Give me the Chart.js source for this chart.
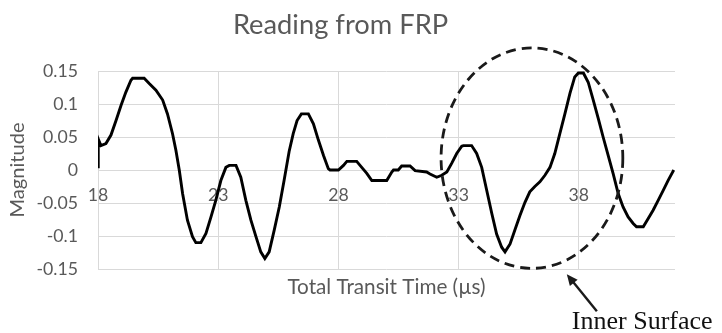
<!DOCTYPE html>
<html>
<head>
<meta charset="utf-8">
<script src="https://cdn.jsdelivr.net/npm/chart.js@4"></script>
<style>
  html, body { margin: 0; padding: 0; background: #fff; }
  #wrap { width: 722px; height: 333px; }
</style>
</head>
<body>
<div id="wrap"><canvas id="c" width="722" height="333"></canvas></div>
<script>
// ---- Data ----
const times = [
  18.00, 18.01, 18.12, 18.33, 18.54, 18.75, 18.96, 19.16, 19.37, 19.44,
  19.92, 20.13, 20.41, 20.69, 20.89, 21.10, 21.24, 21.38, 21.52, 21.72,
  21.93, 22.07, 22.28, 22.49, 22.70, 22.90, 23.11, 23.32, 23.46, 23.74,
  23.94, 24.15, 24.36, 24.57, 24.77, 24.94, 25.12, 25.33, 25.54, 25.74,
  25.95, 26.12, 26.28, 26.46, 26.75, 26.96, 27.17, 27.38, 27.58, 27.65,
  28.00, 28.21, 28.35, 28.76, 28.97, 29.18, 29.39, 30.01, 30.22, 30.29,
  30.49, 30.63, 30.98, 31.19, 31.67, 31.81, 32.09, 32.30, 32.51, 32.71,
  32.92, 33.13, 33.20, 33.54, 33.75, 33.96, 34.17, 34.38, 34.58, 34.79,
  34.93, 35.14, 35.34, 35.55, 35.76, 35.96, 36.17, 36.38, 36.59, 36.80,
  37.00, 37.21, 37.42, 37.63, 37.83, 37.98, 38.19, 38.39, 38.60, 38.81,
  39.01, 39.22, 39.43, 39.64, 39.84, 40.05, 40.26, 40.40, 40.68, 40.88,
  41.09, 41.30, 41.51, 41.71, 41.95
];
const magnitudes = [
  0.005, 0.047, 0.037, 0.040, 0.053, 0.075, 0.098, 0.118, 0.136, 0.139,
  0.139, 0.131, 0.121, 0.106, 0.085, 0.055, 0.030, 0.000, -0.036, -0.076,
  -0.101, -0.110, -0.110, -0.096, -0.071, -0.046, -0.016, 0.004, 0.007, 0.007,
  -0.011, -0.046, -0.076, -0.101, -0.124, -0.134, -0.124, -0.091, -0.056, -0.016,
  0.028, 0.055, 0.075, 0.085, 0.085, 0.070, 0.045, 0.022, 0.002, 0.000,
  0.000, 0.007, 0.013, 0.013, 0.004, -0.005, -0.016, -0.016, -0.003, 0.000,
  0.000, 0.006, 0.006, -0.001, -0.003, -0.006, -0.011, -0.008, -0.003, 0.010,
  0.025, 0.036, 0.037, 0.037, 0.025, 0.004, -0.031, -0.066, -0.097, -0.117,
  -0.124, -0.112, -0.091, -0.069, -0.049, -0.033, -0.025, -0.018, -0.008, 0.004,
  0.025, 0.055, 0.085, 0.116, 0.141, 0.147, 0.147, 0.133, 0.106, 0.078,
  0.050, 0.022, -0.006, -0.036, -0.056, -0.071, -0.081, -0.086, -0.086, -0.074,
  -0.061, -0.046, -0.031, -0.016, 0.000
];
const xTickValues = [18, 23, 28, 33, 38];
const xTickLabels = ['18', '23', '28', '33', '38'];
const yTickValues = [-0.15, -0.1, -0.05, 0, 0.05, 0.1, 0.15];
const yTickLabels = ['-0.15', '-0.1', '-0.05', '0', '0.05', '0.1', '0.15'];
const xRange = [18, 42];
const yRange = [-0.15, 0.15];

const chartTitle = 'Reading from FRP';
const xTitle = 'Total Transit Time (µs)';
const yTitle = 'Magnitude';
const noteText = 'Inner Surface';

// annotation (in data units)
const ellipseCenter = { x: 36.05, y: 0.018 };
const ellipseRadius = { x: 3.78, y: 0.167 };
const arrowTip = { x: 37.5, y: -0.158 };
const arrowTail = { x: 38.75, y: -0.214 };
const noteAnchor = { x: 37.71, y: -0.241 };

// ---- font fitting helper ----
const mctx = document.createElement('canvas').getContext('2d');
function fitSize(text, family, target, weight) {
  mctx.font = (weight || 'normal') + ' 100px ' + family;
  return Math.round(100 * target / mctx.measureText(text).width * 10) / 10;
}
const SANS = 'Lato, "Open Sans", sans-serif';
const SERIF = '"Liberation Serif", "DejaVu Serif", serif';
const fTitle = fitSize(chartTitle, SANS, 215);
const fXTitle = fitSize(xTitle, SANS, 198);
const fYTitle = fitSize(yTitle, SANS, 95);
const fTick = fitSize('0.15', SANS, 35);
const fNote = fitSize(noteText, SERIF, 141);

const grey = '#595959';
const gridColor = '#d9d9d9';

const whiteBg = {
  id: 'whiteBg',
  beforeDraw(chart) {
    const c = chart.ctx;
    c.save(); c.fillStyle = '#fff'; c.fillRect(0, 0, chart.width, chart.height); c.restore();
  }
};

const annot = {
  id: 'annot',
  afterDatasetsDraw(chart) {
    const c = chart.ctx, xs = chart.scales.x, ys = chart.scales.y;
    const cx = xs.getPixelForValue(ellipseCenter.x), cy = ys.getPixelForValue(ellipseCenter.y);
    const rx = xs.getPixelForValue(ellipseCenter.x + ellipseRadius.x) - cx;
    const ry = cy - ys.getPixelForValue(ellipseCenter.y + ellipseRadius.y);
    c.save();
    c.strokeStyle = '#1a1a1a';
    c.lineWidth = 2.8;
    c.setLineDash([10, 6]);
    c.beginPath();
    c.ellipse(cx, cy, rx, ry, 0, 0, Math.PI * 2);
    c.stroke();
    c.setLineDash([]);
    // arrow
    const tx = xs.getPixelForValue(arrowTip.x), ty = ys.getPixelForValue(arrowTip.y);
    const sx = xs.getPixelForValue(arrowTail.x), sy = ys.getPixelForValue(arrowTail.y);
    const ang = Math.atan2(ty - sy, tx - sx);
    const hl = 11, hw = 5;
    c.lineWidth = 2.4;
    c.beginPath();
    c.moveTo(sx, sy);
    c.lineTo(tx - Math.cos(ang) * hl * 0.8, ty - Math.sin(ang) * hl * 0.8);
    c.stroke();
    c.fillStyle = '#1a1a1a';
    c.beginPath();
    c.moveTo(tx, ty);
    c.lineTo(tx - Math.cos(ang) * hl - Math.sin(ang) * hw, ty - Math.sin(ang) * hl + Math.cos(ang) * hw);
    c.lineTo(tx - Math.cos(ang) * hl + Math.sin(ang) * hw, ty - Math.sin(ang) * hl - Math.cos(ang) * hw);
    c.closePath();
    c.fill();
    // note text
    c.font = 'normal ' + fNote + 'px ' + SERIF;
    c.fillStyle = '#111';
    c.textAlign = 'left';
    c.textBaseline = 'alphabetic';
    c.fillText(noteText, xs.getPixelForValue(noteAnchor.x), ys.getPixelForValue(noteAnchor.y));
    c.restore();
  }
};

const titlePadTop = 25 - 0.6 * fTitle;
const titlePadBottom = 71 - 1.2 * fTitle - titlePadTop;
const subPadTop = 287 - 269 - 0.6 * fXTitle;
const bottomPad = 333 - 269 - 1.2 * fXTitle - subPadTop;

new Chart(document.getElementById('c'), {
  type: 'line',
  data: {
    datasets: [{
      data: times.map((t, i) => ({ x: t, y: magnitudes[i] })),
      borderColor: '#000',
      borderWidth: 2.9,
      pointRadius: 0,
      tension: 0,
      fill: false
    }]
  },
  options: {
    responsive: false,
    animation: false,
    events: [],
    layout: { padding: { left: 6, right: 47, top: 0, bottom: bottomPad } },
    plugins: {
      legend: { display: false },
      tooltip: { enabled: false },
      title: {
        display: true, text: chartTitle, color: grey,
        font: { family: SANS, size: fTitle, weight: 'normal' },
        padding: { top: titlePadTop, bottom: titlePadBottom }
      },
      subtitle: {
        display: true, text: xTitle, color: grey, position: 'bottom', fullSize: false,
        font: { family: SANS, size: fXTitle, weight: 'normal' },
        padding: { top: subPadTop, bottom: 0 }
      }
    },
    scales: {
      x: {
        type: 'linear',
        position: { y: 0 },
        min: xRange[0], max: xRange[1],
        afterBuildTicks(s) { s.ticks = xTickValues.map(v => ({ value: v })); },
        ticks: {
          color: grey, font: { family: SANS, size: fTick }, padding: 15, maxRotation: 0,
          callback: (v) => xTickLabels[xTickValues.indexOf(v)] ?? ''
        },
        grid: { color: gridColor, lineWidth: 1, drawTicks: false },
        border: { display: false }
      },
      y: {
        type: 'linear',
        position: 'left',
        min: yRange[0], max: yRange[1],
        afterBuildTicks(s) { s.ticks = yTickValues.map(v => ({ value: v })); },
        afterFit(s) { s.width = 92; },
        ticks: {
          color: grey, font: { family: SANS, size: fTick }, padding: 20,
          callback: (v) => { const i = yTickValues.findIndex(t => Math.abs(t - v) < 1e-9); return i >= 0 ? yTickLabels[i] : ''; }
        },
        title: {
          display: true, text: yTitle, color: grey,
          font: { family: SANS, size: fYTitle, weight: 'normal' },
          padding: { top: 12 - 0.6 * fYTitle, bottom: 0 }
        },
        grid: { color: gridColor, lineWidth: 1, drawTicks: false },
        border: { display: false }
      }
    }
  },
  plugins: [whiteBg, annot]
});
</script>
</body>
</html>
